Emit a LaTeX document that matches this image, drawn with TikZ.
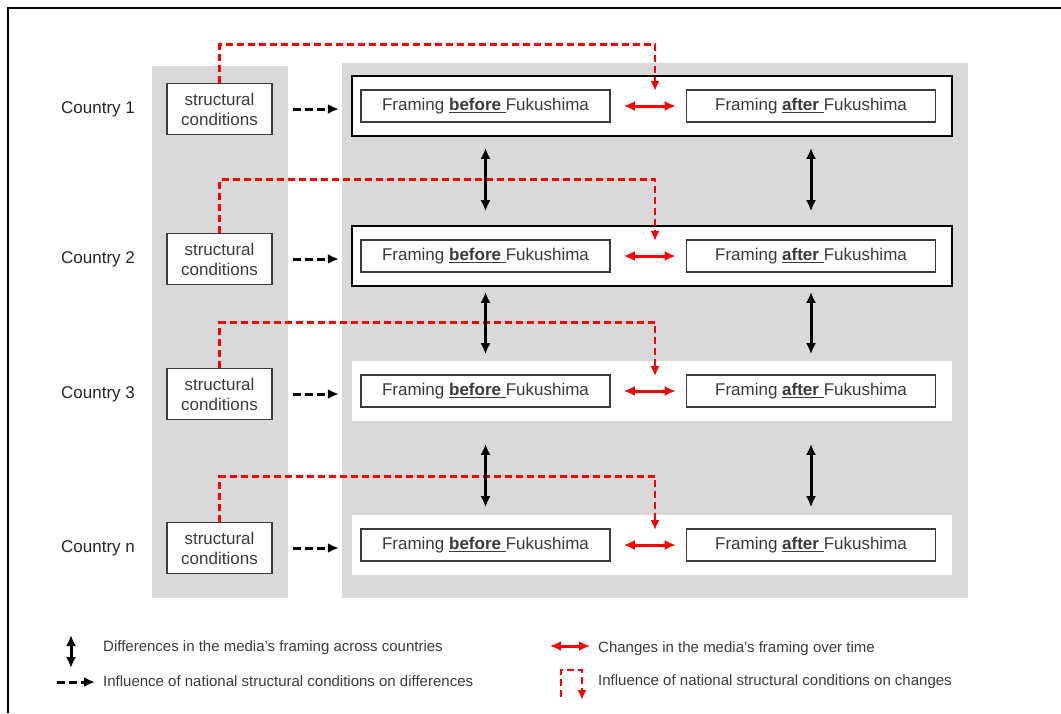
\documentclass[tikz,border=0pt]{standalone}
\usepackage{fontspec}
\setmainfont{Liberation Sans}
\usetikzlibrary{arrows.meta}
\definecolor{panelgray}{HTML}{D9D9D9}
\definecolor{txtgray}{HTML}{3A3A3A}
\definecolor{fkred}{HTML}{FF0000}

\begin{document}
\begin{tikzpicture}
[x=1pt, y=-1pt, font=\fontsize{17}{20}\selectfont, text=txtgray,
 framebox/.style={draw=txtgray, line width=1.6pt, fill=white, minimum width=249pt,
                  minimum height=32pt, inner sep=0pt},
 condbox/.style={draw=txtgray, line width=1.6pt, fill=white, minimum width=105pt,
                 minimum height=51pt, inner sep=0pt, align=center},
 rowbox/.style={fill=white, line width=2.4pt, minimum width=600pt, minimum height=60pt, inner sep=0pt},
 diffarrow/.style={{Latex[length=11pt,width=10pt]}-{Latex[length=11pt,width=10pt]}, line width=3pt, black},
 changearrow/.style={{Latex[length=11pt,width=10pt]}-{Latex[length=11pt,width=10pt]}, line width=3pt, fkred},
 dasharrow/.style={-{Latex[length=11pt,width=10pt]}, line width=3pt, dash pattern=on 8pt off 4pt, black},
 inflred/.style={-{Latex[length=10pt,width=9pt]}, line width=2.6pt, dash pattern=on 7pt off 4pt, fkred},
 legend/.style={anchor=west, inner sep=0pt, font=\fontsize{15}{18}\selectfont}]

\useasboundingbox (0,0) rectangle (1061,713);
\draw[line width=2.2pt] (8,713) |- (1061,8);
% grey panels
\fill[panelgray] (152,66) rectangle (288,598);
\fill[panelgray] (342,63) rectangle (968,598);

% one row per country
\foreach \i/\y/\lab/\bd/\up in {1/106/1/black/38, 2/256/2/black/53, 3/391/3/none/45, 4/545/n/none/45} {
  \node[rowbox, draw=\bd] (r\i) at (652,\y) {};
  \node[text=black!85] (c\i) at (98,\y+3) {Country \lab};
  \node[condbox] (s\i) at (219.5,\y+3) {structural\\conditions};
  \node[framebox] (b\i) at (485.5,\y) {Framing \underline{\textbf{before }}Fukushima};
  \node[framebox] (a\i) at (811,\y) {Framing \underline{\textbf{after }}Fukushima};
  \coordinate (t\i) at (655,\y-15);
  \draw[dasharrow, shorten <=20pt, shorten >=12pt] (s\i.east) -- (r\i.west |- s\i.east);
  \draw[changearrow, shorten <=13pt, shorten >=10pt] (b\i) -- (a\i);
  \draw[inflred] (s\i.north) -- ++(0,-\up) -| (t\i);
}

% differences across countries
\foreach \i/\j/\sa/\sb in {1/2/25/28, 2/3/19/20, 3/4/36/21} {
  \draw[diffarrow, shorten <=\sa pt, shorten >=\sb pt] (b\i) -- (b\j);
  \draw[diffarrow, shorten <=\sa pt, shorten >=\sb pt] (a\i) -- (a\j);
}

% legend
\node[legend] (l1) at (103,648) {Differences in the media’s framing across countries};
\node[legend] (l2) at (103,681) {Influence of national structural conditions on differences};
\node[legend] (l3) at (598,649) {Changes in the media’s framing over time};
\node[legend] (l4) at (598,682) {Influence of national structural conditions on changes};
\coordinate (k1a) at (71,635);  \coordinate (k1b) at (71,668);
\coordinate (k2a) at (57,682);  \coordinate (k2b) at (95,682);
\coordinate (k3a) at (550,646); \coordinate (k3b) at (590,646);
\coordinate (k4a) at (561,697); \coordinate (k4b) at (582,700);
\draw[diffarrow] (k1a) -- (k1b);
\draw[dasharrow] (k2a) -- (k2b);
\draw[changearrow] (k3a) -- (k3b);
\draw[inflred] (k4a) -- ++(0,-27) -| (k4b);
\end{tikzpicture}
\end{document}
